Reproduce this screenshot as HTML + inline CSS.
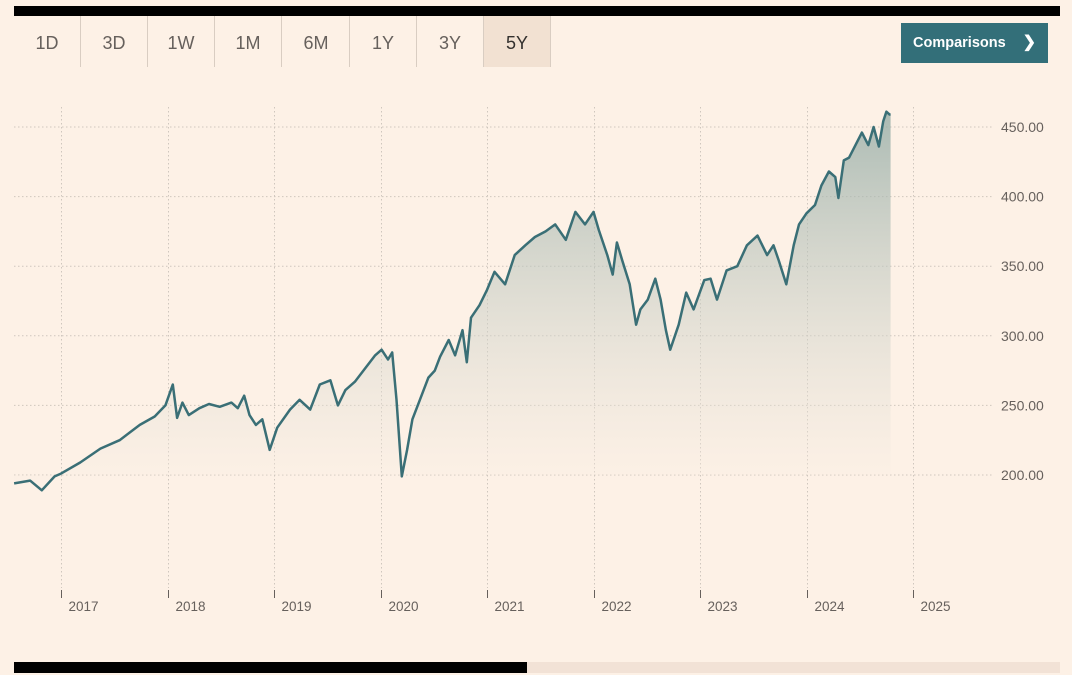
<!DOCTYPE html>
<html><head><meta charset="utf-8">
<style>
body{margin:0;background:#fdf1e6;width:1072px;height:675px;overflow:hidden;font-family:"Liberation Sans",sans-serif;position:relative}
.topbar{position:absolute;left:14px;top:6px;width:1046px;height:10px;background:#000}
.btn{position:absolute;top:16px;height:51px;width:67px;border-right:1px solid #d9cdc2;box-sizing:border-box;text-align:center;line-height:54px;font-size:18px;color:#66605c}
.btn.sel{background:#f2e1d2;color:#33302e}
.cmp{position:absolute;left:901px;top:23px;width:147px;height:40px;background:#336f79;color:#fff;font-weight:bold;font-size:14.5px;line-height:40px;box-sizing:border-box;padding-left:12px}
.cmp span{position:absolute;right:12px;top:0;font-size:16px}
.track{position:absolute;left:14px;top:662px;width:1046px;height:11px;background:#f2e2d6}
.thumb{position:absolute;left:14px;top:662px;width:513px;height:11px;background:#000}
</style></head><body>
<div class="topbar"></div>
<div class="btn" style="left:14px">1D</div>
<div class="btn" style="left:81px">3D</div>
<div class="btn" style="left:148px">1W</div>
<div class="btn" style="left:215px">1M</div>
<div class="btn" style="left:283px">6M</div>
<div class="btn" style="left:350px">1Y</div>
<div class="btn" style="left:417px">3Y</div>
<div class="btn sel" style="left:484px">5Y</div>
<div class="cmp">Comparisons<span>❯</span></div>
<svg id="chart" width="1072" height="675" style="position:absolute;left:0;top:0">
<defs><linearGradient id="g" x1="0" y1="0" x2="0" y2="1">
<stop offset="0" stop-color="#8fa8a2" stop-opacity="0.75"/>
<stop offset="1" stop-color="#fdf1e6" stop-opacity="0.3"/></linearGradient></defs>
</svg>
<div class="track"></div>
<div class="thumb"></div>
<script>
const years=[2016.56,2016.71,2016.82,2016.94,2017.0,2017.18,2017.37,2017.55,2017.74,2017.88,2017.98,2018.05,2018.09,2018.14,2018.2,2018.3,2018.39,2018.49,2018.6,2018.66,2018.72,2018.77,2018.83,2018.89,2018.96,2019.03,2019.15,2019.24,2019.34,2019.43,2019.53,2019.6,2019.67,2019.76,2019.86,2019.95,2020.01,2020.07,2020.11,2020.15,2020.2,2020.25,2020.3,2020.37,2020.45,2020.51,2020.56,2020.64,2020.7,2020.77,2020.81,2020.85,2020.93,2021.0,2021.07,2021.17,2021.26,2021.36,2021.45,2021.55,2021.64,2021.74,2021.83,2021.92,2022.0,2022.05,2022.13,2022.18,2022.22,2022.27,2022.34,2022.4,2022.44,2022.51,2022.58,2022.63,2022.68,2022.72,2022.8,2022.87,2022.94,2023.04,2023.1,2023.16,2023.25,2023.35,2023.44,2023.54,2023.63,2023.69,2023.74,2023.81,2023.88,2023.93,2024.0,2024.08,2024.14,2024.21,2024.27,2024.3,2024.35,2024.4,2024.46,2024.52,2024.58,2024.63,2024.68,2024.72,2024.75,2024.78,2024.79];
const prices=[194,196,189,199,201,209,219,225,236,242,250,265,241,252,243,248,251,249,252,248,257,243,236,240,218,234,247,254,247,265,268,250,261,267,277,286,290,283,288,254,199,218,240,254,270,275,285,297,286,304,281,313,322,333,346,337,358,365,371,375,380,369,389,380,389,376,358,344,367,354,337,308,319,326,341,326,304,290,308,331,319,340,341,326,347,350,365,372,358,365,354,337,365,380,388,394,408,418,414,399,426,428,437,446,437,450,436,454,461,459,459];
const yTicks=[200,250,300,350,400,450];
const xTickYears=[2017,2018,2019,2020,2021,2022,2023,2024,2025];
const NS='http://www.w3.org/2000/svg';
const svg=document.getElementById('chart');
const xs=y=>61+(y-2017)*106.5;
const ys=v=>475-(v-200)*1.392;
function mk(t,a){const e=document.createElementNS(NS,t);for(const k in a)e.setAttribute(k,a[k]);svg.appendChild(e);return e;}
yTicks.forEach(v=>{
 const l=mk('line',{x1:14,x2:992,y1:ys(v),y2:ys(v),stroke:'#cfc6bd','stroke-dasharray':'1.5,2.5'});
 
 
 const t=mk('text',{x:1001,y:ys(v)+5,'font-size':14,fill:'#66605c'});
 t.textContent=v.toFixed(2);
 
 
});
xTickYears.forEach(y=>{
 const x=Math.round(xs(y))+0.5;
 const l=mk('line',{x1:x,x2:x,y1:107,y2:588,stroke:'#cfc6bd','stroke-dasharray':'1.5,2.5'});
 
 
 const tk=mk('line',{x1:x,x2:x,y1:590,y2:598,stroke:'#66605c','stroke-width':1});
 
 
 const t=mk('text',{x:x+7,y:611,'font-size':13.5,fill:'#66605c'});
 t.textContent=y;
 
 
});
let d='';years.forEach((y,i)=>{d+=(i?'L':'M')+xs(y).toFixed(1)+','+ys(prices[i]).toFixed(1);});
const last=xs(years[years.length-1]).toFixed(1),first=xs(years[0]).toFixed(1);
const area=mk('path',{d:d+'L'+last+','+ys(200)+'L'+first+','+ys(200)+'Z',fill:'url(#g)'});


const line=mk('path',{d:d,fill:'none',stroke:'#3a6f76','stroke-width':2.5,'stroke-linejoin':'round'});


</script>
</body></html>
